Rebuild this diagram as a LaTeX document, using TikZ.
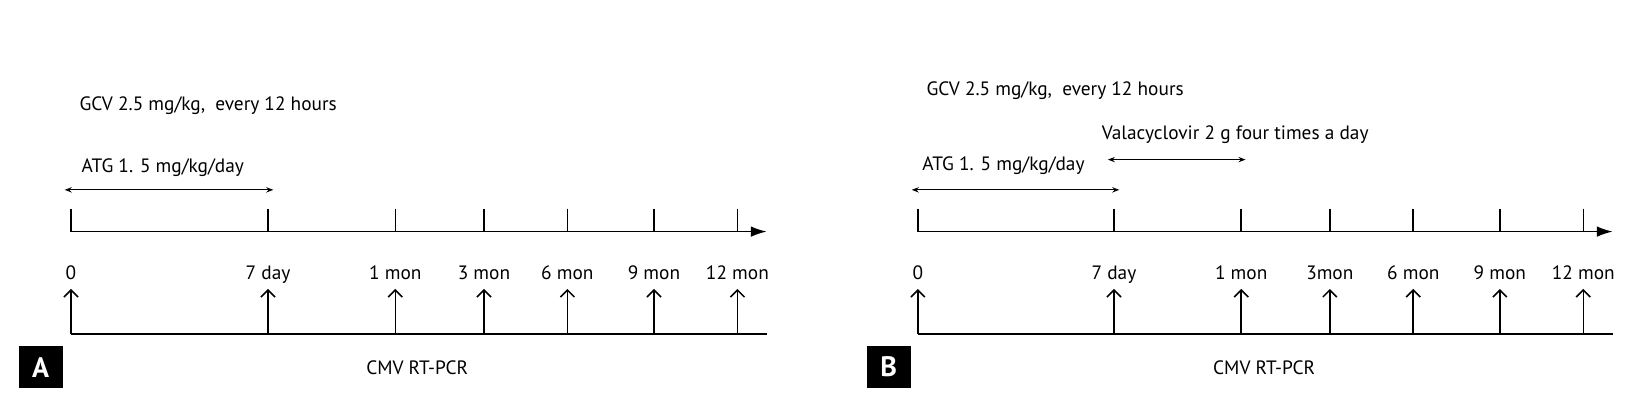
\documentclass[tikz,border=0pt]{standalone}
\usepackage{fontspec}
\setmainfont{PT Sans}
\usetikzlibrary{arrows.meta,positioning,calc}
\newcommand{\pxunit}{0.02cm}
\tikzset{
    axissty/.style={line width=0.9pt,-{Latex[length=9pt,width=6pt]}},
    ticksty/.style={line width=0.9pt},
    upsty/.style={line width=0.9pt,-{Straight Barb[length=4pt,width=8pt]}},
    spansty/.style={line width=0.7pt,{Stealth[length=4pt]}-{Stealth[length=4pt]}},
    ticklabsty/.style={font=\fontsize{11}{13}\selectfont,anchor=base},
    drugsty/.style={font=\fontsize{11}{13}\selectfont,anchor=base west,inner sep=0pt},
    panelsty/.style={fill=black,text=white,font=\bfseries\fontsize{16}{17}\selectfont,minimum width=44*\pxunit,minimum height=42*\pxunit,inner sep=0pt},
}
\begin{document}
\begin{tikzpicture}[x=\pxunit,y=-\pxunit]
  \useasboundingbox (0,0) rectangle (1635,412);
  \begin{scope}[scale=1.043]
  % panel A
  \foreach \n/\x [count=\i] in {0/68,7 day/257,1 mon/379,3 mon/464,6 mon/544,9 mon/627,12 mon/707}{
    \draw[ticksty] (\x,200) -- (\x,222);
    \node[ticklabsty] (a-lab-\i) at (\x,268) {\n};
    \draw[upsty] (\x,320) -- (\x,277);
  }
  \coordinate (a-start) at (68,222);
  \coordinate (a-end) at (735,222);
  \draw[axissty] (a-start) -- (a-end);
  \draw[ticksty] (68,320) -- (735,320);
  \node[ticklabsty] (a-pcr) at (400,359) {CMV RT-PCR};
  \node[panelsty] (a-panel) at (39,352) {A};
  \node[drugsty] (a-gcv) at (76,106) {GCV 2.5 mg/kg,\ \ every 12 hours};
  \node[drugsty] (a-atg) at (78,165) {ATG 1. 5 mg/kg/day};
  \coordinate (a-atg-l) at (62,182);
  \coordinate (a-atg-r) at (262,182);
  \draw[spansty] (a-atg-l) -- (a-atg-r);
  % panel B
  \foreach \n/\x [count=\i] in {0/880,7 day/1068,1 mon/1190,3mon/1275,6 mon/1355,9 mon/1438,12 mon/1518}{
    \draw[ticksty] (\x,200) -- (\x,222);
    \node[ticklabsty] (b-lab-\i) at (\x,268) {\n};
    \draw[upsty] (\x,320) -- (\x,277);
  }
  \coordinate (b-start) at (880,222);
  \coordinate (b-end) at (1546,222);
  \draw[axissty] (b-start) -- (b-end);
  \draw[ticksty] (880,320) -- (1546,320);
  \node[ticklabsty] (b-pcr) at (1212,359) {CMV RT-PCR};
  \node[panelsty] (b-panel) at (852,352) {B};
  \node[drugsty] (b-gcv) at (888,92) {GCV 2.5 mg/kg,\ \ every 12 hours};
  \node[drugsty] (b-val) at (1056,134) {Valacyclovir 2 g four times a day};
  \node[drugsty] (b-atg) at (884,163) {ATG 1. 5 mg/kg/day};
  \coordinate (b-val-l) at (1062,153);
  \coordinate (b-val-r) at (1194,153);
  \draw[spansty] (b-val-l) -- (b-val-r);
  \coordinate (b-atg-l) at (874,182);
  \coordinate (b-atg-r) at (1073,182);
  \draw[spansty] (b-atg-l) -- (b-atg-r);
  \end{scope}
\end{tikzpicture}
\end{document}
